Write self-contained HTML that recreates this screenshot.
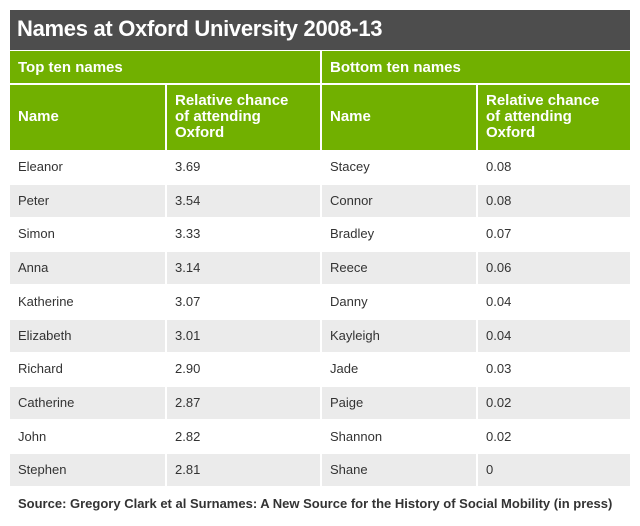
<!DOCTYPE html>
<html><head><style>
body{margin:0;width:640px;height:526px;background:#fff;font-family:"Liberation Sans",Arial,sans-serif;position:relative;overflow:hidden}
.a{position:absolute;box-sizing:border-box}
.t{left:10px;top:10px;width:620px;height:40px;background:#4d4d4d;color:#fff;font-weight:bold;font-size:22px;padding:6px 0 0 7px;letter-spacing:-0.3px}
.g{background:#71b000;color:#fff;font-weight:bold;font-size:15px}
.c{font-size:13px;color:#333;padding-left:8px}
.s{left:18px;top:496px;font-size:13px;font-weight:bold;color:#333;white-space:nowrap}
</style></head><body>
<div class="a t">Names at Oxford University 2008-13</div>
<div class="a g" style="left:10px;top:51px;width:310px;height:32px;padding:8px 0 0 8px">Top ten names</div>
<div class="a g" style="left:322px;top:51px;width:308px;height:32px;padding:8px 0 0 8px">Bottom ten names</div>
<div class="a g" style="left:10px;top:85px;width:155px;height:65px;padding:23px 0 0 8px">Name</div>
<div class="a g" style="left:167px;top:85px;width:153px;height:65px;padding:8px 0 0 8px;line-height:16px">Relative chance<br>of attending<br>Oxford</div>
<div class="a g" style="left:322px;top:85px;width:154px;height:65px;padding:23px 0 0 8px">Name</div>
<div class="a g" style="left:478px;top:85px;width:152px;height:65px;padding:8px 0 0 8px;line-height:16px">Relative chance<br>of attending<br>Oxford</div>
<div id="rows"></div>
<div class="a s">Source: Gregory Clark et al Surnames: A New Source for the History of Social Mobility (in press)</div>
<script>
var d=[["Eleanor","3.69","Stacey","0.08"],["Peter","3.54","Connor","0.08"],["Simon","3.33","Bradley","0.07"],["Anna","3.14","Reece","0.06"],["Katherine","3.07","Danny","0.04"],["Elizabeth","3.01","Kayleigh","0.04"],["Richard","2.90","Jade","0.03"],["Catherine","2.87","Paige","0.02"],["John","2.82","Shannon","0.02"],["Stephen","2.81","Shane","0"]];
var xs=[[10,155],[167,153],[322,154],[478,152]],h="";
d.forEach(function(r,i){var y=Math.round(151+i*33.7);var bg=i%2?"#ebebeb":"#fff";
r.forEach(function(v,j){h+='<div class="a c" style="left:'+xs[j][0]+'px;top:'+y+'px;width:'+xs[j][1]+'px;height:32px;line-height:31px;background:'+bg+'">'+v+'</div>';});});
document.getElementById("rows").innerHTML=h;
</script>
</body></html>
